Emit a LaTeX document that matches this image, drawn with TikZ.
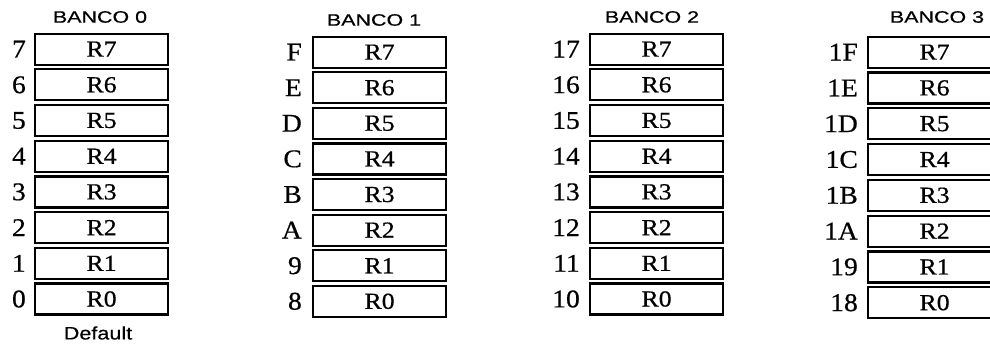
\documentclass[tikz,border=0pt]{standalone}
\usepackage{fontspec}
\setmainfont[FakeStretch=1.08,FakeBold=0.6]{Liberation Serif}
\newfontfamily\regfont[FakeStretch=1.12,FakeBold=0.6]{Liberation Serif}
\newfontfamily\headfont[FakeStretch=1.3,FakeBold=0.5]{Liberation Sans}
\newfontfamily\deffont[FakeStretch=1.2,FakeBold=0.5]{Liberation Sans}
\tikzset{
  regbox/.style={draw=black, line width=2.2pt, minimum width=133pt, minimum height=31pt, inner sep=0pt, anchor=north west, font=\regfont\fontsize{23}{23}\selectfont},
  addr/.style={anchor=east, inner sep=0pt, font=\fontsize{25.5}{25.5}\selectfont},
  head/.style={inner sep=0pt, font=\headfont\fontsize{16.5}{16.5}\selectfont},
  deflabel/.style={inner sep=0pt, font=\deffont\fontsize{18}{18}\selectfont}
}
\begin{document}
\begin{tikzpicture}[x=1pt,y=1pt]
\useasboundingbox (0,0) rectangle (990,-343);
% bank 0
\foreach \i/\a in {7/7,6/6,5/5,4/4,3/3,2/2,1/1,0/0}{
  \node[regbox] (b0r\i) at (34,{-32.5-(7-\i)*35.7}) {R\i};
  \node[addr] (b0a\i) at ([xshift=-8pt]b0r\i.west) {\a};
}
% bank 1
\foreach \i/\a in {7/F,6/E,5/D,4/C,3/B,2/A,1/9,0/8}{
  \node[regbox] (b1r\i) at (312,{-35.5-(7-\i)*35.6}) {R\i};
  \node[addr] (b1a\i) at ([xshift=-10pt]b1r\i.west) {\a};
}
% bank 2
\foreach \i/\a in {7/17,6/16,5/15,4/14,3/13,2/12,1/11,0/10}{
  \node[regbox] (b2r\i) at (589,{-32.5-(7-\i)*35.7}) {R\i};
  \node[addr] (b2a\i) at ([xshift=-9pt]b2r\i.west) {\a};
}
% bank 3
\foreach \i/\a in {7/1F,6/1E,5/1D,4/1C,3/1B,2/1A,1/19,0/18}{
  \node[regbox, minimum width=124pt] (b3r\i) at (867,{-35.5-(7-\i)*35.8}) {\hspace*{9pt}R\i};
  \node[addr] (b3a\i) at ([xshift=-9pt]b3r\i.west) {\a};
}
\node[head] (h0) at (100,-17) {BANCO 0};
\node[head] (h1) at (374,-20) {BANCO 1};
\node[head] (h2) at (652,-17) {BANCO 2};
\node[head] (h3) at (937,-17) {BANCO 3};
\node[deflabel] (def) at (98,-333) {Default};
\end{tikzpicture}
\end{document}
